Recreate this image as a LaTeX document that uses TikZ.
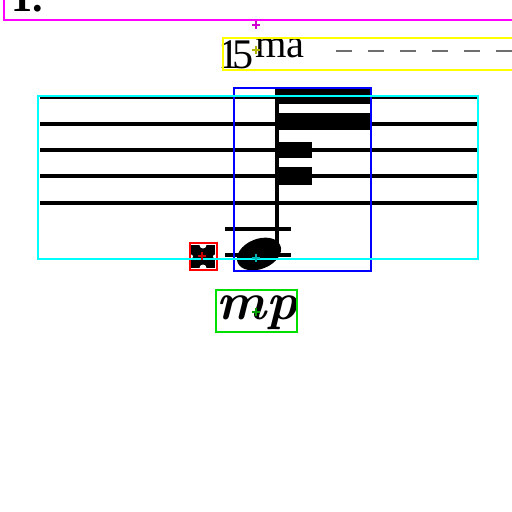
\documentclass[tikz,border=0pt]{standalone}
\usepackage{fontspec}
\usepackage{xcolor}
\usepackage[]{tikz}
\usetikzlibrary{positioning,calc}
\newfontfamily\timesfont{Liberation Serif}
\definecolor{boxMagenta}{HTML}{FF00FF}
\definecolor{boxYellow}{HTML}{FFFF00}
\definecolor{boxCyan}{HTML}{00FFFF}
\definecolor{boxBlue}{HTML}{0000FF}
\definecolor{boxRed}{HTML}{FF0000}
\definecolor{boxGreen}{HTML}{00E000}
\definecolor{markMagenta}{HTML}{D000D0}
\definecolor{markYellow}{HTML}{B4B400}
\definecolor{markCyan}{HTML}{00B4B4}
\definecolor{markRed}{HTML}{C80000}
\definecolor{markGreen}{HTML}{00A000}
\definecolor{ottavaGray}{HTML}{6E6E6E}
\tikzstyle{bbox}     =[line width=1.5pt]
\tikzstyle{staffLine}=[line width=2pt]
\tikzstyle{ledger}   =[line width=2.2pt]
\tikzstyle{ottava}   =[ottavaGray, line width=1.1pt, dash pattern=on 9.1pt off 9.1pt]
\tikzstyle{textSerif}=[inner sep=0pt, anchor=base west]
\newcommand{\marker}[2]{
  \draw[#1, line width=1.3pt] ($(#2)+(-4,0)$) -- ($(#2)+(4,0)$) ($(#2)+(0,-4)$) -- ($(#2)+(0,4)$);
}
\begin{document}
\begin{tikzpicture}[x=0.02cm, y=-0.02cm]
        \useasboundingbox (0,0) rectangle (512,512);
        \clip (0,0) rectangle (512,512);
        % staff and ledger lines
        \foreach \ly in {97,124,150,176,203}
          \draw[staffLine] (40,\ly) -- (477,\ly);
        \foreach \ly in {229,255}
          \draw[ledger] (225,\ly) -- (291,\ly);
        % note: stem, beams, head
        \draw[line width=1.8pt] (277,89) -- (277,252);
        \fill (275,89) rectangle (370,104);
        \fill (275,113) rectangle (370,130);
        \fill (275,142) rectangle (312,158);
        \fill (275,167) rectangle (312,185);
        \fill[rotate around={22:(259,254)}] (259,254) ellipse [x radius=23, y radius=15];
        % double sharp
        \fill (191,245) rectangle (215,268);
        \fill[white] (203,245) circle (3.5) (203,268) circle (3.5);
        \fill[white] (191,256.5) circle (2) (215,256.5) circle (2);
        % texts
        \node[textSerif, font=\timesfont\bfseries\fontsize{24}{24}\selectfont] (1) at (11,11) {1.};
        \node[textSerif, font=\timesfont\fontsize{24}{24}\selectfont] (15) at (218,68) {1\kern-4pt5};
        \node[textSerif, font=\timesfont\fontsize{23}{23}\selectfont] (ma) at (255,57) {ma};
        \node[inner sep=0pt, anchor=base, font=\bfseries\itshape\fontsize{30}{30}\selectfont] (mp) at (257,319) {mp};
        \coordinate (ottavaStart) at (336,51);
        \coordinate (ottavaEnd) at (530,51);
        \draw[ottava] (ottavaStart) -- (ottavaEnd);
        % boxes
        \draw[bbox, boxMagenta] (4,-10) rectangle (520,20);
        \draw[bbox, boxYellow] (223,38) rectangle (520,70);
        \draw[bbox, boxBlue] (234,88) rectangle (371,271);
        \draw[bbox, boxRed] (190,243) rectangle (217,270);
        \draw[bbox, boxCyan] (38,96) rectangle (478,259);
        \draw[bbox, boxGreen] (216,290) rectangle (297,332);
        % markers
        \marker{markMagenta}{256,25}
        \marker{markYellow}{256,50}
        \marker{markCyan}{256,258}
        \marker{markRed}{202,256}
        \marker{markGreen}{256,312}
      \end{tikzpicture}
\end{document}
